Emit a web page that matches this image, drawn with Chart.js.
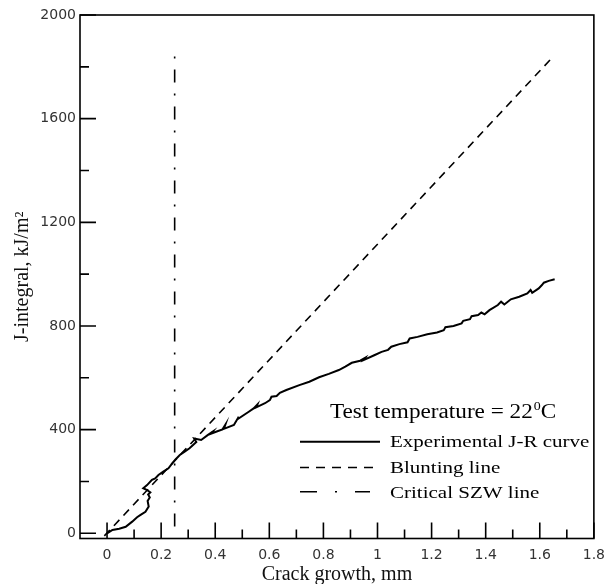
<!DOCTYPE html>
<html>
<head>
<meta charset="utf-8">
<script src="https://cdn.jsdelivr.net/npm/chart.js@4.4.1/dist/chart.umd.min.js"></script>
<style>
  html, body { margin: 0; padding: 0; background: #fff; }
  #wrap { width: 613px; height: 584px; position: relative; }
</style>
</head>
<body>
<div id="wrap"><canvas id="jr"></canvas></div>
<script>
// --- data (crack growth in mm, J in kJ/m2) ---
const crackGrowth = [0, 0.02, 0.045, 0.069, 0.093, 0.111, 0.124, 0.142, 0.154, 0.15, 0.158, 0.152, 0.16, 0.148, 0.134,
  0.148, 0.166, 0.178, 0.19, 0.208, 0.227, 0.241, 0.253, 0.269, 0.287, 0.305, 0.33, 0.322, 0.348, 0.372, 0.39, 0.384,
  0.408, 0.427, 0.437, 0.432, 0.469, 0.487, 0.482, 0.524, 0.542, 0.556, 0.552, 0.584, 0.602, 0.608, 0.627, 0.639, 0.663,
  0.711, 0.748, 0.784, 0.82, 0.857, 0.881, 0.905, 0.936, 0.954, 0.948, 0.99, 1.015, 1.039, 1.051, 1.081, 1.111, 1.119,
  1.148, 1.184, 1.22, 1.245, 1.251, 1.281, 1.311, 1.317, 1.342, 1.348, 1.372, 1.384, 1.396, 1.414, 1.445, 1.457, 1.469,
  1.493, 1.524, 1.554, 1.566, 1.572, 1.596, 1.608, 1.615, 1.633, 1.655];
const jIntegral = [0, 13, 18, 25, 45, 62, 71, 83, 103, 125, 138, 150, 158, 167, 174,
  186, 206, 212, 225, 238, 251, 270, 285, 302, 315, 328, 352, 366, 360, 379, 392, 384,
  394, 401, 418, 403, 418, 450, 440, 469, 482, 497, 486, 502, 514, 527, 530, 542, 553,
  572, 585, 602, 615, 630, 643, 658, 666, 677, 668, 688, 700, 708, 720, 730, 737, 752,
  758, 768, 775, 784, 795, 800, 810, 820, 826, 838, 842, 852, 845, 861, 881, 894, 883,
  903, 913, 926, 939, 928, 945, 958, 967, 974, 980];

const bluntX = [-0.01, 1.65];
const bluntJ = [-10, 1840];
const szwX = [0.25, 0.25];
const szwJ = [1840, 0];

const xTicks = [0, 0.2, 0.4, 0.6, 0.8, 1, 1.2, 1.4, 1.6, 1.8];
const xTickLabels = ['0', '0.2', '0.4', '0.6', '0.8', '1', '1.2', '1.4', '1.6', '1.8'];
const xMinor = [0.1, 0.3, 0.5, 0.7, 0.9, 1.1, 1.3, 1.5, 1.7];
const yTicks = [0, 400, 800, 1200, 1600, 2000];
const yTickLabels = ['0', '400', '800', '1200', '1600', '2000'];
const yMinor = [200, 600, 1000, 1400, 1800];

const seriesNames = ['Experimental J-R curve', 'Blunting line', 'Critical SZW line'];
const legendTitle = 'Test temperature = 22';

const pts = (xs, ys) => xs.map((v, i) => ({ x: v, y: ys[i] }));

// text in the figure is a bit wider than a normal font, so stretch it sideways
function wideText(ctx, text, x, y, sx) {
  ctx.save();
  ctx.translate(x, y);
  ctx.scale(sx, 1);
  ctx.fillText(text, 0, 0);
  const w = ctx.measureText(text).width * sx;
  ctx.restore();
  return w;
}

// box frame + inward tick marks
const frameTicks = {
  id: 'frameTicks',
  afterDatasetsDraw(chart) {
    const { ctx, chartArea: a, scales: { x, y } } = chart;
    ctx.save();
    ctx.strokeStyle = '#000';
    ctx.lineWidth = 1.6;
    ctx.strokeRect(a.left, a.top, a.right - a.left, a.bottom - a.top);
    ctx.beginPath();
    xTicks.forEach(v => { const p = x.getPixelForValue(v); ctx.moveTo(p, a.bottom); ctx.lineTo(p, a.bottom - 16); });
    xMinor.forEach(v => { const p = x.getPixelForValue(v); ctx.moveTo(p, a.bottom); ctx.lineTo(p, a.bottom - 9); });
    yTicks.forEach(v => { const p = y.getPixelForValue(v); ctx.moveTo(a.left, p); ctx.lineTo(a.left + 16, p); });
    yMinor.forEach(v => { const p = y.getPixelForValue(v); ctx.moveTo(a.left, p); ctx.lineTo(a.left + 9, p); });
    ctx.stroke();
    ctx.restore();
  }
};

// legend box inside the plot (lower right)
const boxLegend = {
  id: 'boxLegend',
  afterDraw(chart) {
    const ctx = chart.ctx;
    const sets = chart.data.datasets;
    ctx.save();
    ctx.fillStyle = '#000';
    ctx.textBaseline = 'alphabetic';
    ctx.font = '20px "Liberation Serif"';
    let w = wideText(ctx, legendTitle, 330, 418, 1.16);
    ctx.font = '12px "Liberation Serif"';
    w += wideText(ctx, '0', 330 + w + 1, 410, 1.16);
    ctx.font = '20px "Liberation Serif"';
    wideText(ctx, 'C', 330 + w + 1, 418, 1.16);

    const lineY = [441.7, 467.5, 491.7];
    const textY = [446.7, 472.7, 498.3];
    const dashes = [[], [9, 7], [17, 18, 2, 18]];
    const ends = [380, 377, 370];
    ctx.font = '17.5px "Liberation Serif"';
    seriesNames.forEach((name, i) => {
      ctx.beginPath();
      ctx.setLineDash(dashes[i]);
      ctx.lineWidth = sets[i].borderWidth;
      ctx.strokeStyle = sets[i].borderColor;
      ctx.moveTo(300, lineY[i]);
      ctx.lineTo(ends[i], lineY[i]);
      ctx.stroke();
      wideText(ctx, name, 390, textY[i], 1.2);
    });
    ctx.restore();
  }
};

new Chart(document.getElementById('jr'), {
  type: 'line',
  data: {
    datasets: [
      { label: seriesNames[0], data: pts(crackGrowth, jIntegral), borderColor: '#000', borderWidth: 2, pointRadius: 0, tension: 0 },
      { label: seriesNames[1], data: pts(bluntX, bluntJ), borderColor: '#000', borderWidth: 1.6, borderDash: [8, 6], pointRadius: 0 },
      { label: seriesNames[2], data: pts(szwX, szwJ), borderColor: '#000', borderWidth: 1.6, borderDash: [2, 11, 13, 11], pointRadius: 0 }
    ]
  },
  options: {
    responsive: true,
    maintainAspectRatio: false,
    animation: false,
    layout: { padding: { top: 15, right: 11, left: 0, bottom: 0 } },
    plugins: { legend: { display: false }, tooltip: { enabled: false } },
    scales: {
      x: {
        type: 'linear', min: -0.1, max: 1.8,
        grid: { display: false, drawTicks: false },
        border: { display: false },
        afterBuildTicks: s => { s.ticks = xTicks.map(v => ({ value: v })); },
        afterFit: s => { s.height = 45.5; },
        ticks: { callback: (v, i) => xTickLabels[i], padding: 8, maxRotation: 0, autoSkip: false,
                 font: { family: 'DejaVu Sans', size: 14 }, color: '#333' },
        title: { display: true, text: 'Crack growth, mm', color: '#111',
                 font: { family: 'Liberation Serif', size: 20 }, padding: { top: 0, bottom: -3 } }
      },
      y: {
        type: 'linear', min: -20, max: 2000,
        grid: { display: false, drawTicks: false },
        border: { display: false },
        afterBuildTicks: s => { s.ticks = yTicks.map(v => ({ value: v })); },
        afterFit: s => { s.width = 80; },
        ticks: { callback: (v, i) => yTickLabels[i], padding: 4, autoSkip: false,
                 font: { family: 'DejaVu Sans', size: 14 }, color: '#333' },
        title: { display: true, text: 'J-integral, kJ/m²', color: '#111',
                 font: { family: 'Liberation Serif', size: 20 }, padding: { top: 11, bottom: 0 } }
      }
    }
  },
  plugins: [frameTicks, boxLegend]
});
</script>
</body>
</html>
